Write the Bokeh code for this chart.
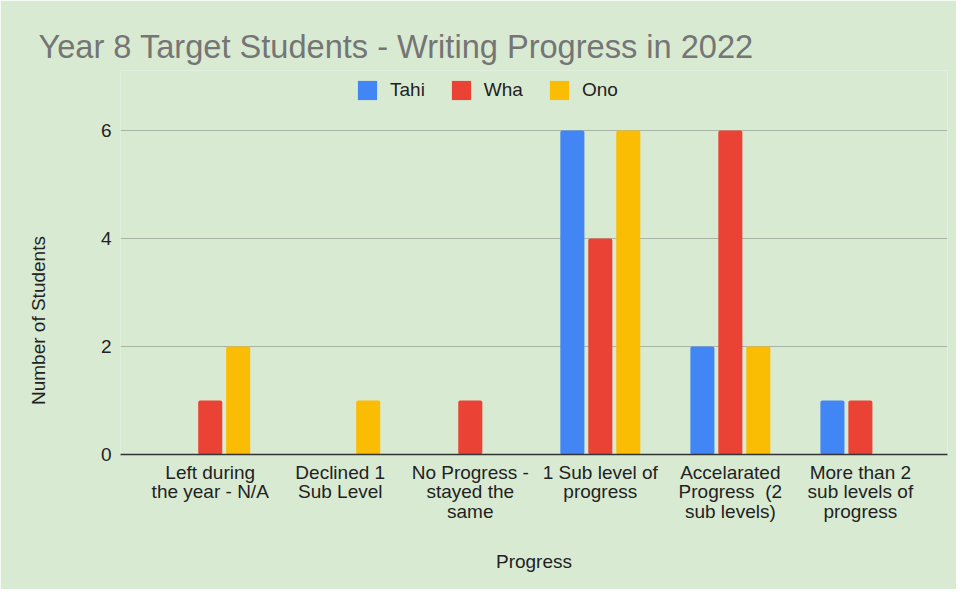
from bokeh.plotting import figure
from bokeh.models import Range1d, FixedTicker, Legend, LegendItem, ColumnDataSource
from bokeh.transform import dodge
from bokeh.embed import file_html
from bokeh.resources import INLINE

# ---- data ----
categories = [
    "Left during\nthe year - N/A",
    "Declined 1\nSub Level",
    "No Progress -\nstayed the\nsame",
    "1 Sub level of\nprogress",
    "Accelarated\nProgress\u00a0\u00a0(2\nsub levels)",
    "More than 2\nsub levels of\nprogress",
]
tahi = [0, 0, 0, 6, 2, 1]
wha = [1, 0, 1, 4, 6, 1]
ono = [2, 1, 0, 6, 2, 0]
series_names = ["Tahi", "Wha", "Ono"]
y_ticks = [0, 2, 4, 6]
y_title = "Number of Students"
x_title = "Progress"

colors = ["#4285f4", "#ea4335", "#fbbc04"]
bg = "#d9ead3"
FONT = "Liberation Sans"

idx = list(range(len(categories)))
src = ColumnDataSource(data=dict(x=idx, tahi=tahi, wha=wha, ono=ono))

p = figure(
    width=956, height=589,
    x_range=Range1d(-0.69, 5.67), y_range=Range1d(0, 7.111),
    output_backend="svg", toolbar_location=None,
    min_border_left=120, min_border_right=9, min_border_top=70, min_border_bottom=135,
)
p.background_fill_color = bg
p.border_fill_color = bg
p.outline_line_color = None

w = 0.185
off = 0.215
renderers = []
for name, col, dx in zip(series_names, colors, [-off, 0, off]):
    r = p.vbar(x=dodge("x", dx), top=name.lower(), width=w, bottom=0, source=src,
               fill_color=col, line_color=None, border_radius=2)
    renderers.append(r)

# title
p.title.text = "Year 8 Target Students - Writing Progress in 2022"
p.title.text_font = FONT
p.title.text_font_size = "32.6px"
p.title.text_font_style = "normal"
p.title.text_color = "#757575"
p.title.align = "left"
p.title.offset = -82
p.title.standoff = 12

# axes
xa = p.xaxis[0]
xa.ticker = FixedTicker(ticks=idx)
xa.major_label_overrides = {i: c for i, c in zip(idx, categories)}
xa.major_tick_line_color = None
xa.minor_tick_line_color = None
xa.axis_line_color = "#333333"
xa.axis_line_width = 1.5
xa.major_label_text_font = FONT
xa.major_label_text_font_size = "19px"
xa.major_label_text_color = "#222222"
xa.major_label_text_line_height = 0.95
xa.major_label_standoff = 1
xa.axis_label = x_title
xa.axis_label_text_font = FONT
xa.axis_label_text_font_size = "19px"
xa.axis_label_text_font_style = "normal"
xa.axis_label_text_color = "#222222"
xa.axis_label_standoff = 26

ya = p.yaxis[0]
ya.ticker = FixedTicker(ticks=y_ticks)
ya.axis_line_color = None
ya.major_tick_line_color = None
ya.minor_tick_line_color = None
ya.major_label_text_font = FONT
ya.major_label_text_font_size = "19px"
ya.major_label_text_color = "#222222"
ya.major_label_standoff = 3
# trailing no-break spaces lower the visible label to sit beside the 0-6 scale
ya.axis_label = y_title + "\u00a0" * 22
ya.axis_label_text_font = FONT
ya.axis_label_text_font_size = "19px"
ya.axis_label_text_font_style = "normal"
ya.axis_label_text_color = "#222222"
ya.axis_label_standoff = 49

p.xgrid.grid_line_color = None
p.ygrid.grid_line_color = "#a9b5a4"
p.ygrid.grid_line_width = 1

legend = Legend(
    items=[LegendItem(label=n, renderers=[r]) for n, r in zip(series_names, renderers)],
    orientation="horizontal",
    location=(235, 352),
    glyph_width=24, glyph_height=24,
    label_text_font=FONT, label_text_font_size="19px", label_text_color="#222222",
    label_standoff=11, spacing=24, padding=0, margin=0,
    border_line_color=None, background_fill_alpha=0,
)
p.add_layout(legend, "center")

open("out.html", "w").write(file_html(p, INLINE))
